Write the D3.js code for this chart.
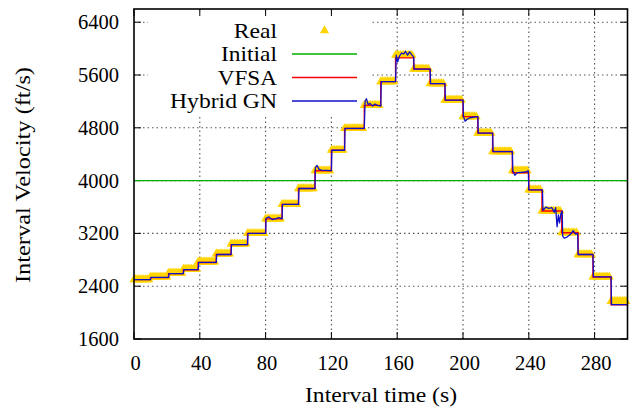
<!DOCTYPE html>
<html>
<head>
<meta charset="utf-8">
<script src="https://cdn.jsdelivr.net/npm/d3@7"></script>
<style>
body{margin:0;background:#fff;}
svg{display:block;}
text{font-family:"Liberation Serif","Times New Roman",serif;fill:#000;}
</style>
</head>
<body>
<svg id="chart" width="634" height="408"></svg>
<script>
// layer boundaries (s) and velocities (ft/s)
var layerTimes = [0,10,21,30,39,50,59,69,80,90,100,110,120,128,140,150,159,170,180,189,200,209,218,230,240,248,260,270,279,290,300];
var realVel = [2500,2540,2600,2660,2770,2890,3040,3200,3420,3640,3880,4150,4460,4790,5140,5500,5900,5690,5470,5220,4970,4720,4440,4150,3860,3540,3210,2880,2540,2170];
var vfsaVel = [2500,2530,2590,2650,2760,2880,3030,3200,3420,3640,3880,4150,4460,4790,5140,5500,5860,5690,5470,5220,4970,4720,4440,4120,3860,3540,3210,2880,2540,2120];
var initialVel = 4000;
var hybrid = [[0,2500],[10,2500],[10.3,2535],[21,2535],[21.3,2590],[30,2590],[30.3,2650],[39,2650],[39.3,2760],[50,2760],
	[50.3,2880],[59,2880],[59.3,3030],[69,3030],[69.3,3200],[80,3200],[80.3,3430],[82,3450],[84,3410],[86,3420],[88,3440],[90,3420],
	[90.3,3640],[100,3640],[100.3,3880],[110,3880],[110.3,4200],[111.3,4230],[112.5,4170],[114,4160],[120,4150],
	[120.3,4460],[128,4460],[128.3,4790],[140,4790],[140.5,5210],[141.3,5240],[142.3,5150],[143.5,5170],[145,5130],[146.5,5160],[148,5140],[150,5130],
	[150.3,5500],[159,5500],[159.4,5900],[160.3,5800],[161.3,5880],[162.5,5930],[164,5920],[165,5960],[166.3,5900],[167.5,5950],[169,5900],[170,5870],
	[170.3,5690],[180,5690],[180.3,5470],[189,5470],[189.3,5220],[200,5220],[200.3,4970],[201.3,4900],[202.5,4930],[204,4950],[206,4960],[209,4970],
	[209.3,4720],[218,4720],[218.3,4440],[230,4440],[230.3,4150],[231.5,4080],[233,4120],[235,4125],[238,4130],[239.7,4150],
	[240,3860],[248.3,3860],[248.6,3550],[250.5,3600],[252,3580],[254,3590],[255.5,3520],[256.3,3590],[257.2,3300],[258,3480],[258.7,3360],[259.5,3500],[260.3,3540],
	[260.6,3160],[261.5,3130],[263,3140],[265,3180],[267,3240],[268.5,3190],[269.7,3200],
	[270,2880],[279,2880],[279.3,2540],[290,2540],[290.3,2120],[300,2120]];
var xTicks = [0,40,80,120,160,200,240,280];
var yTicks = [1600,2400,3200,4000,4800,5600,6400];
var legendNames = ["Real","Initial","VFSA","Hybrid GN"];
var colors = {real:"#ffd400", initial:"#00b000", vfsa:"#ff0000", hybrid:"#1010c8"};

var svg = d3.select("#chart");
var L = 134, R = 627.5, T = 9, B = 339;
var x = d3.scaleLinear().domain([0,300]).range([L,R]);
var y = d3.scaleLinear().domain([1600,6600]).range([B,T]);

// grid
var grid = svg.append("g").attr("stroke","#555").attr("stroke-width",1.1).attr("stroke-dasharray","1.5,3");
grid.selectAll(".gx").data(xTicks.slice(1)).enter().append("line")
	.attr("x1",function(d){return x(d);}).attr("x2",function(d){return x(d);})
	.attr("y1",T).attr("y2",B);
grid.selectAll(".gy").data(yTicks.slice(1)).enter().append("line")
	.attr("x1",L).attr("x2",R)
	.attr("y1",function(d){return y(d);}).attr("y2",function(d){return y(d);});

// opaque key background hides grid
svg.append("rect").attr("x",148).attr("y",12).attr("width",223).attr("height",102).attr("fill","#fff");

// ticks (inward, mirrored)
var tk = 7;
var ax = svg.append("g").attr("stroke","#000").attr("stroke-width",1);
xTicks.forEach(function(d){
	ax.append("line").attr("x1",x(d)).attr("x2",x(d)).attr("y1",B).attr("y2",B-tk);
	ax.append("line").attr("x1",x(d)).attr("x2",x(d)).attr("y1",T).attr("y2",T+tk);
});
yTicks.forEach(function(d){
	ax.append("line").attr("x1",L).attr("x2",L+tk).attr("y1",y(d)).attr("y2",y(d));
	ax.append("line").attr("x1",R).attr("x2",R-tk).attr("y1",y(d)).attr("y2",y(d));
});

// real samples every second
var realPts = [];
for(var t=0; t<300; t++){
	var i = d3.bisectRight(layerTimes, t)-1;
	realPts.push([t, realVel[i]]);
}
var tri = d3.symbol().type(d3.symbolTriangle).size(36);
svg.append("g").selectAll("path").data(realPts).enter().append("path")
	.attr("d",tri)
	.attr("transform",function(d){return "translate("+x(d[0])+","+y(d[1])+")";})
	.attr("fill",colors.real);

// initial
svg.append("line").attr("x1",L).attr("x2",R).attr("y1",y(initialVel)).attr("y2",y(initialVel))
	.attr("stroke",colors.initial).attr("stroke-width",1.2);

// VFSA step line
var vfsaPts = vfsaVel.map(function(v,i){return [layerTimes[i],v];});
vfsaPts.push([300, vfsaVel[vfsaVel.length-1]]);
svg.append("path").datum(vfsaPts)
	.attr("d", d3.line().x(function(d){return x(d[0]);}).y(function(d){return y(d[1]);}).curve(d3.curveStepAfter))
	.attr("fill","none").attr("stroke",colors.vfsa).attr("stroke-width",1.4);

// Hybrid GN
svg.append("path").datum(hybrid)
	.attr("d", d3.line().x(function(d){return x(d[0]);}).y(function(d){return y(d[1]);}))
	.attr("fill","none").attr("stroke",colors.hybrid).attr("stroke-width",1.3).attr("stroke-linejoin","round");

// frame
svg.append("rect").attr("x",L).attr("y",T).attr("width",R-L).attr("height",B-T)
	.attr("fill","none").attr("stroke","#000").attr("stroke-width",1.6);

// tick labels
svg.append("g").selectAll("text").data(xTicks).enter().append("text")
	.attr("x",function(d){return x(d)+1.5;}).attr("y",369.5)
	.attr("text-anchor","middle").attr("font-size",20.5)
	.text(function(d){return d;});
svg.append("g").selectAll("text").data(yTicks).enter().append("text")
	.attr("x",119).attr("y",function(d){return y(d)+7;})
	.attr("text-anchor","end").attr("font-size",20.5)
	.text(function(d){return d;});

// axis titles
svg.append("text").attr("x",381).attr("y",402).attr("text-anchor","middle").attr("font-size",21)
	.attr("textLength",152).attr("lengthAdjust","spacingAndGlyphs")
	.text("Interval time (s)");
svg.append("text").attr("transform","translate(30,175) rotate(-90)").attr("text-anchor","middle").attr("font-size",21)
	.attr("textLength",216).attr("lengthAdjust","spacingAndGlyphs")
	.text("Interval Velocity (ft/s)");

// legend
var rowY = [30.5, 54, 77.5, 101];
var widths = [43.3, 56, 59.3, 107];
var lg = svg.append("g");
legendNames.forEach(function(n,i){
	lg.append("text").attr("x",277).attr("y",rowY[i]+7).attr("text-anchor","end").attr("font-size",21)
		.attr("textLength",widths[i]).attr("lengthAdjust","spacingAndGlyphs").text(n);
});
lg.append("path").attr("d",tri).attr("transform","translate(324.5,"+rowY[0]+")").attr("fill",colors.real);
[colors.initial, colors.vfsa, colors.hybrid].forEach(function(c,i){
	lg.append("line").attr("x1",292).attr("x2",357).attr("y1",rowY[i+1]).attr("y2",rowY[i+1])
		.attr("stroke",c).attr("stroke-width",1.3);
});
</script>
</body>
</html>
